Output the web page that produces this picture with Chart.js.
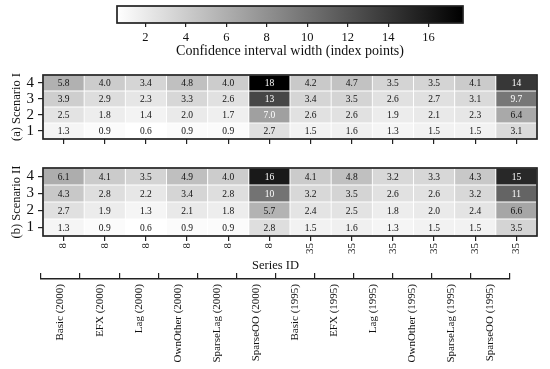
<!DOCTYPE html>
<html><head><meta charset="utf-8">
<script src="https://cdn.jsdelivr.net/npm/chart.js@4/dist/chart.umd.min.js"></script>
<style>
html,body{margin:0;padding:0;background:#fff;}
#wrap{position:relative;width:550px;height:369px;overflow:hidden;background:#fff;}
canvas{position:absolute;left:0;}
</style></head><body>
<div id="wrap">
<canvas id="cb" width="550" height="60" style="top:0px"></canvas>
<canvas id="pa" width="550" height="92" style="top:60px"></canvas>
<canvas id="pb" width="550" height="106" style="top:152px"></canvas>
<canvas id="br" width="550" height="119" style="top:250px"></canvas>
</div>
<script>
// ---- data ----
const seriesNames = ['Basic (2000)','EFX (2000)','Lag (2000)','OwnOther (2000)','SparseLag (2000)','SparseOO (2000)',
                     'Basic (1995)','EFX (1995)','Lag (1995)','OwnOther (1995)','SparseLag (1995)','SparseOO (1995)'];
const seriesIds = ['8','8','8','8','8','8','35','35','35','35','35','35'];
const rowLabels = ['1','2','3','4'];
const colorbarTicks = [2,4,6,8,10,12,14,16];

// Scenario I, rows 1..4
const scenarioI_1 = [1.3,0.9,0.6,0.9,0.9,2.7,1.5,1.6,1.3,1.5,1.5,3.1];
const scenarioI_2 = [2.5,1.8,1.4,2.0,1.7,7.0,2.6,2.6,1.9,2.1,2.3,6.4];
const scenarioI_3 = [3.9,2.9,2.3,3.3,2.6,13,3.4,3.5,2.6,2.7,3.1,9.7];
const scenarioI_4 = [5.8,4.0,3.4,4.8,4.0,17.7,4.2,4.7,3.5,3.5,4.1,14];
// Scenario II, rows 1..4
const scenarioII_1 = [1.3,0.9,0.6,0.9,0.9,2.8,1.5,1.6,1.3,1.5,1.5,3.5];
const scenarioII_2 = [2.7,1.9,1.3,2.1,1.8,5.7,2.4,2.5,1.8,2.0,2.4,6.6];
const scenarioII_3 = [4.3,2.8,2.2,3.4,2.8,10,3.2,3.5,2.6,2.6,3.2,11];
const scenarioII_4 = [6.1,4.1,3.5,4.9,4.0,16,4.1,4.8,3.2,3.3,4.3,15];

const scenarioI = [scenarioI_1, scenarioI_2, scenarioI_3, scenarioI_4];
const scenarioII = [scenarioII_1, scenarioII_2, scenarioII_3, scenarioII_4];
const allVals = scenarioI.concat(scenarioII).flat();
const vmin = Math.min(...allVals), vmax = Math.max(...allVals);

// ---- style ----
const FONT = "'Liberation Serif', 'Times New Roman', serif";
Chart.defaults.font.family = FONT;
Chart.defaults.color = '#111';
Chart.defaults.animation = false;
const INK = '#222';

function norm(v){ return (v - vmin) / (vmax - vmin); }
function grey(v){ const g = Math.round(255 * (1 - norm(v))); return `rgb(${g},${g},${g})`; }
function fmt(v){ return v >= 10 ? v.toFixed(0) : v.toFixed(1); }

const framePlugin = {
  id: 'frame',
  afterDraw(chart){
    const a = chart.chartArea, c = chart.ctx;
    c.save(); c.strokeStyle = INK; c.lineWidth = 1.7;
    c.strokeRect(a.left, a.top, a.right - a.left, a.bottom - a.top);
    c.restore();
  }
};
const labelPlugin = {
  id: 'cellLabels',
  afterDatasetsDraw(chart){
    const c = chart.ctx;
    c.save();
    c.font = `9.5px ${FONT}`; c.textAlign = 'center'; c.textBaseline = 'middle';
    chart.data.datasets.forEach((ds, di) => {
      const meta = chart.getDatasetMeta(di);
      meta.data.forEach((el, i) => {
        const v = ds.values[i];
        const p = el.getCenterPoint();
        c.fillStyle = norm(v) > 0.36 ? '#fff' : '#111';
        c.fillText(fmt(v), p.x, p.y + 0.5);
      });
    });
    c.restore();
  }
};

function heatmap(id, rows, title, showIds, padTop, xHeight){
  const datasets = rows.map((vals, r) => ({
    label: rowLabels[r],
    values: vals,
    data: vals.map(() => [r + 0.5, r + 1.5]),
    backgroundColor: vals.map(grey),
    borderColor: '#fff',
    borderWidth: 0.8,
    borderSkipped: false,
    grouped: false,
    barPercentage: 1,
    categoryPercentage: 1
  }));
  return new Chart(document.getElementById(id), {
    type: 'bar',
    data: { labels: seriesNames, datasets },
    plugins: [labelPlugin, framePlugin],
    options: {
      responsive: false,
      layout: { padding: { left: 0, right: 13, top: padTop, bottom: 0 } },
      plugins: { legend: { display: false }, tooltip: { enabled: false } },
      scales: {
        x: {
          offset: true,
          grid: { offset: false, drawOnChartArea: false, drawTicks: true, tickLength: 5, color: INK, lineWidth: 1.2 },
          border: { display: false },
          ticks: {
            display: showIds, autoSkip: false, minRotation: 90, maxRotation: 90, padding: 2,
            font: { size: 11 }, color: '#111',
            callback: (val, i) => seriesIds[i]
          },
          afterFit: s => { s.height = xHeight; }
        },
        y: {
          min: 0.5, max: 4.5,
          afterBuildTicks: ax => { ax.ticks = rowLabels.map((l, i) => ({ value: i + 1 })); },
          grid: { drawOnChartArea: false, drawTicks: true, tickLength: 5, color: INK, lineWidth: 1.2 },
          border: { display: false },
          ticks: { padding: 4, font: { size: 15 }, color: '#111', callback: (v) => rowLabels[v - 1] },
          title: { display: true, text: title, font: { size: 12.5 }, color: '#111', padding: { top: 9, bottom: 0 } },
          afterFit: s => { s.width = 43; }
        }
      }
    }
  });
}

heatmap('pa', scenarioI, '(a) Scenario I', false, 15, 9);
heatmap('pb', scenarioII, '(b) Scenario II', true, 16, 22);

// ---- colorbar ----
new Chart(document.getElementById('cb'), {
  type: 'bar',
  data: { labels: ['range'], datasets: [{
    data: [[vmin, vmax]],
    backgroundColor: (ctx) => {
      const a = ctx.chart.chartArea;
      if (!a) return '#888';
      const g = ctx.chart.ctx.createLinearGradient(a.left, 0, a.right, 0);
      g.addColorStop(0, '#ffffff'); g.addColorStop(1, '#000000');
      return g;
    },
    borderWidth: 0, barPercentage: 1, categoryPercentage: 1
  }]},
  plugins: [framePlugin],
  options: {
    responsive: false,
    indexAxis: 'y',
    layout: { padding: { left: 117, right: 87, top: 6, bottom: 0 } },
    plugins: { legend: { display: false }, tooltip: { enabled: false } },
    scales: {
      x: {
        min: vmin, max: vmax,
        afterBuildTicks: ax => { ax.ticks = colorbarTicks.map(v => ({ value: v })); },
        grid: { drawOnChartArea: false, drawTicks: true, tickLength: 4, color: INK, lineWidth: 1.2 },
        border: { display: false },
        ticks: { font: { size: 12.5 }, color: '#111', padding: 3, maxRotation: 0 },
        title: { display: true, text: 'Confidence interval width (index points)', font: { size: 14 }, color: '#111', padding: { top: 0, bottom: 0 } },
        afterFit: s => { s.height = 37; }
      },
      y: { display: false }
    }
  }
});

// ---- series bracket axis ----
new Chart(document.getElementById('br'), {
  type: 'bar',
  data: { labels: seriesNames, datasets: [{ data: [] }] },
  options: {
    responsive: false,
    layout: { padding: { left: 41, right: 40, top: 0, bottom: 0 } },
    plugins: {
      legend: { display: false }, tooltip: { enabled: false },
      title: { display: true, text: 'Series ID', font: { size: 12.5, weight: 'normal' }, color: '#111', padding: { top: 8, bottom: 0 } }
    },
    scales: {
      x: {
        offset: true,
        grid: { offset: true, drawOnChartArea: true, drawTicks: false, color: INK, lineWidth: 1.2 },
        border: { display: true, color: INK, width: 1.4 },
        ticks: { autoSkip: false, minRotation: 90, maxRotation: 90, padding: 5, font: { size: 11 }, color: '#111' },
        afterFit: s => { s.height = 90; }
      },
      y: { display: false }
    }
  }
});
</script>
</body></html>
